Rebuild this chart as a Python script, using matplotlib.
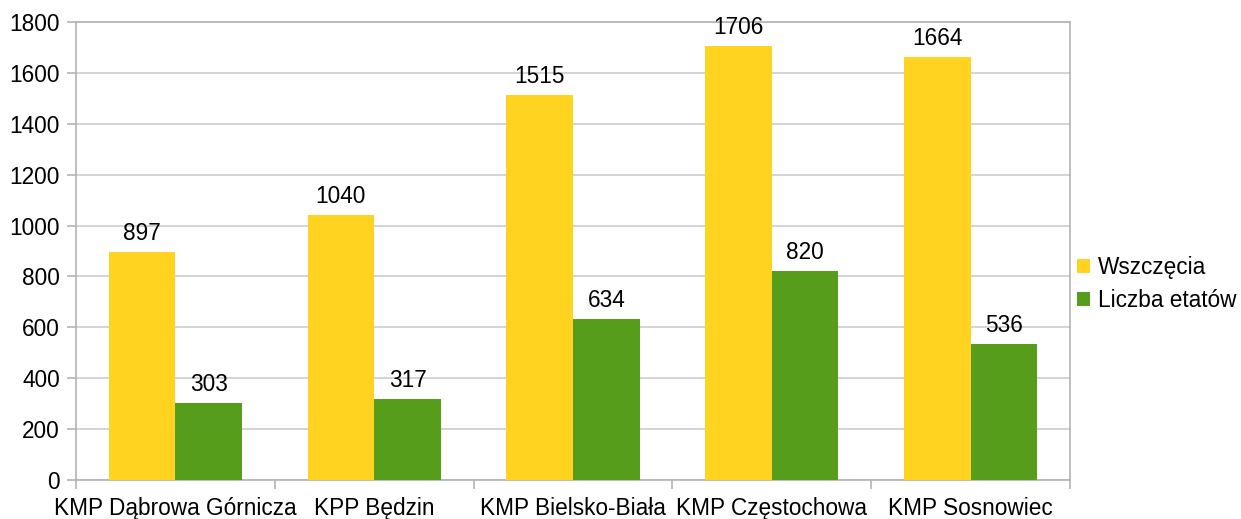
import matplotlib
matplotlib.use("Agg")
import matplotlib.pyplot as plt
import numpy as np
from matplotlib.patches import Patch

categories = ["KMP Dąbrowa Górnicza", "KPP Będzin", "KMP Bielsko-Biała",
              "KMP Częstochowa", "KMP Sosnowiec"]
wszczecia = [897, 1040, 1515, 1706, 1664]
etaty = [303, 317, 634, 820, 536]
series_names = ["Wszczęcia", "Liczba etatów"]
colors = ["#FFD320", "#579D1C"]
yticks = [0, 200, 400, 600, 800, 1000, 1200, 1400, 1600, 1800]

plt.rcParams['font.family'] = ['Liberation Sans', 'DejaVu Sans']
FS = 16.3

fig = plt.figure(figsize=(12.41, 5.19), dpi=100)
ax = fig.add_axes([76/1241, 39/519, (1070-76)/1241, (480-22)/519])

x = np.arange(len(categories))
w = 0.335
b1 = ax.bar(x - w/2, wszczecia, w, color=colors[0], zorder=3)
b2 = ax.bar(x + w/2, etaty, w, color=colors[1], zorder=3)

for bars, vals in ((b1, wszczecia), (b2, etaty)):
    for r, v in zip(bars, vals):
        ax.annotate(str(v), (r.get_x() + r.get_width()/2, v),
                    xytext=(0, 5), textcoords="offset points",
                    ha="center", va="bottom", fontsize=FS, color="black")

ax.set_xlim(-0.5, len(categories) - 0.5)
ax.set_ylim(0, 1800)
ax.set_yticks(yticks)
ax.set_yticklabels([str(t) for t in yticks], fontsize=FS)

ax.set_xticks(np.arange(len(categories) + 1) - 0.5)
ax.set_xticklabels([])
ax.set_xticks(x, minor=True)
ax.set_xticklabels(categories, minor=True, fontsize=FS)
ax.tick_params(axis='x', which='minor', length=0, pad=12)
ax.tick_params(axis='x', which='major', length=6.5, color="#b3b3b3", width=1.2)
ax.tick_params(axis='y', length=6.5, color="#b3b3b3", width=1.2, pad=5)

ax.yaxis.grid(True, color="#cccccc", linewidth=1.2, zorder=0)
ax.set_axisbelow(True)
for s in ax.spines.values():
    s.set_color("#b3b3b3")
    s.set_linewidth(1.2)

handles = [Patch(facecolor=c, edgecolor='none') for c in colors]
fig.legend(handles, series_names, loc="center left",
           bbox_to_anchor=(1072/1241, 1 - 284/519), frameon=False,
           fontsize=FS, handlelength=0.6, handleheight=0.6,
           handletextpad=0.35, labelspacing=0.45, borderpad=0.0,
           borderaxespad=0.2)

fig.savefig("out.png", dpi=100)
